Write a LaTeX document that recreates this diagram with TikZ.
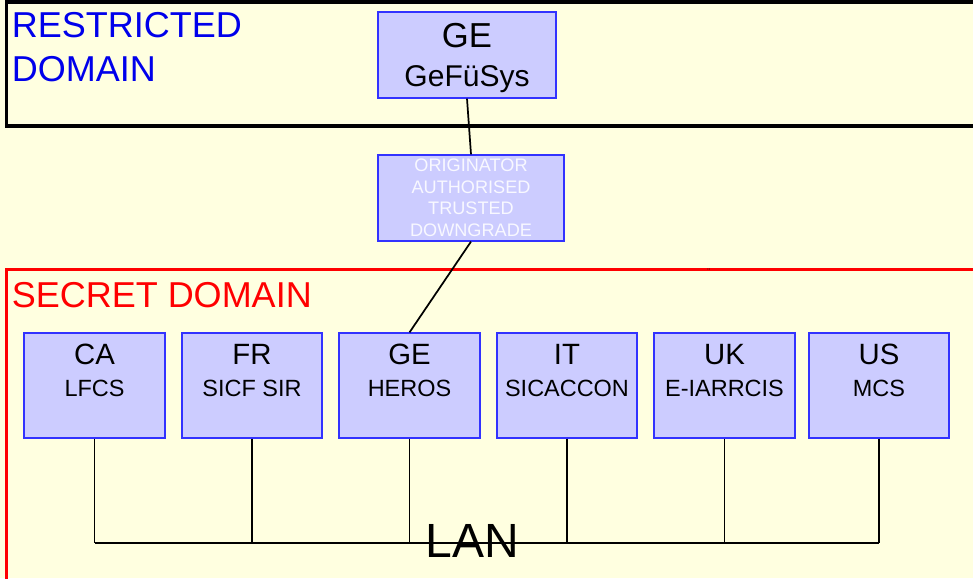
\documentclass[tikz,border=0pt]{standalone}
\usepackage{fontspec}
\setmainfont{Liberation Sans}
\definecolor{bg}{RGB}{255,255,224}
\definecolor{boxfill}{RGB}{204,204,255}
\definecolor{boxline}{RGB}{50,50,255}
\definecolor{restrblue}{RGB}{0,0,235}
\definecolor{origtext}{RGB}{248,248,255}
\tikzset{
  sysbox/.style={draw=boxline, fill=boxfill, line width=0.9pt, minimum width=#1*0.75pt, inner sep=0pt},
  bigtxt/.style={anchor=base, inner sep=0pt, font=\fontsize{22pt}{26pt}\selectfont},
  smalltxt/.style={anchor=base, inner sep=0pt, font=\fontsize{17.6pt}{21pt}\selectfont},
  origtxt/.style={anchor=base, inner sep=0pt, text=origtext, font=\fontsize{13.6pt}{16pt}\selectfont},
  domtxt/.style={anchor=base west, inner sep=0pt, font=\fontsize{27pt}{33pt}\selectfont},
  link/.style={draw=black, line width=1.3pt},
}
\begin{document}
\begin{tikzpicture}[x=0.75pt,y=-0.75pt]
\useasboundingbox (0,0) rectangle (973,578);
\fill[bg] (0,0) rectangle (973,578);
\clip (0,0) rectangle (973,578);
% domains
\draw[black, line width=2.4pt] (6.5,2) rectangle (990,126);
\draw[red, line width=2.4pt] (6.5,269.5) rectangle (990,600);
\node[domtxt, text=restrblue] (rtitle1) at (11.5,37) {RESTRICTED};
\node[domtxt, text=restrblue] (rtitle2) at (11.5,81) {DOMAIN};
\node[domtxt, text=red] (stitle) at (11.5,307) {SECRET DOMAIN};
\node[inner sep=0pt, font=\fontsize{7pt}{8pt}\selectfont] (stray) at (709,272) {¨};
% top system
\node[sysbox=178, minimum height=86*0.75pt] (gefu) at (467,55) {};
\node[anchor=base, inner sep=0pt, font=\fontsize{26pt}{30pt}\selectfont] (gefu1) at (467,47) {GE};
\node[anchor=base, inner sep=0pt, font=\fontsize{22.5pt}{26pt}\selectfont] (gefu2) at (467,86) {GeFüSys};
% downgrade box
\node[sysbox=186, minimum height=86*0.75pt] (orig) at (471,198) {};
\node[origtxt] (o1) at (471,171) {ORIGINATOR};
\node[origtxt] (o2) at (471,193) {AUTHORISED};
\node[origtxt] (o3) at (471,214.5) {TRUSTED};
\node[origtxt] (o4) at (471,236) {DOWNGRADE};
% national systems
\foreach \n/\cx/\w/\a/\b in {ca/94.5/141/CA/LFCS, fr/252/140/FR/SICF SIR, ge/409.5/141/GE/HEROS, it/567/140/IT/SICACCON, uk/724.5/141/UK/E-IARRCIS, us/879/140/US/MCS}{
  \node[sysbox=\w, minimum height=105*0.75pt] (\n) at (\cx,385.5) {};
  \node[bigtxt] (\n a) at (\cx,364) {\a};
  \node[smalltxt] (\n b) at (\cx,396) {\b};
}
% connectors
\draw[link] (gefu.south) -- (orig.north);
\draw[link] (orig.south) -- (ge.north);
\coordinate (bus) at (0,543);
\foreach \n in {ca,fr,ge,it,uk,us}{
  \draw[link] (\n.south) -- (\n.south |- bus);
}
\draw[link] (ca.south |- bus) -- (us.south |- bus);
\node[anchor=base, inner sep=0pt, font=\fontsize{36pt}{40pt}\selectfont] (lan) at (472.5,557) {LAN};
\end{tikzpicture}
\end{document}
